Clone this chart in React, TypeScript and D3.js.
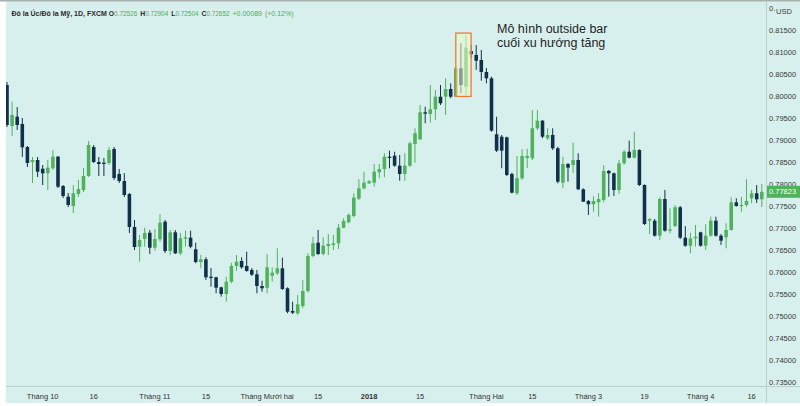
import React, { useRef, useEffect } from 'react';
import * as d3 from 'd3';

const W = 800;
const H = 406;

// OHLC, một nến mỗi ngày giao dịch (cuối 09/2017 -> 04/2018)
const opens = [
  0.80250, 0.79318, 0.79530, 0.79364, 0.78841, 0.78500, 0.78545, 0.78348, 0.78243, 0.78357,
  0.78621, 0.77955, 0.77712, 0.77500, 0.77773, 0.77864, 0.78182, 0.78841, 0.78500, 0.78484,
  0.78477, 0.78796, 0.78228, 0.78068, 0.77773, 0.77023, 0.76575, 0.76750, 0.76893, 0.76552,
  0.76743, 0.77143, 0.76477, 0.76902, 0.76425, 0.76757, 0.76780, 0.76516, 0.76227, 0.76289,
  0.75893, 0.75880, 0.75652, 0.75500, 0.75780, 0.76137, 0.76250, 0.76137, 0.76046, 0.75948,
  0.75682, 0.75643, 0.75916, 0.75971, 0.76084, 0.75630, 0.75114, 0.75062, 0.75227, 0.75568,
  0.76364, 0.76666, 0.76409, 0.76591, 0.76614, 0.76652, 0.77007, 0.77130, 0.77273, 0.77666,
  0.77902, 0.78016, 0.78030, 0.78266, 0.78341, 0.78621, 0.78643, 0.78416, 0.78228, 0.78416,
  0.78909, 0.79016, 0.79630, 0.79591, 0.79698, 0.79984, 0.79984, 0.80159, 0.79984, 0.80630,
  0.80212, 0.81023, 0.80932, 0.80818, 0.80546, 0.80402, 0.79130, 0.79075, 0.79061, 0.78228,
  0.77789, 0.78130, 0.78591, 0.78584, 0.79266, 0.79439, 0.79039, 0.79114, 0.78812, 0.78030,
  0.78455, 0.78432, 0.78545, 0.77880, 0.77614, 0.77539, 0.77584, 0.77637, 0.78296, 0.78243,
  0.77864, 0.78471, 0.78734, 0.78598, 0.78773, 0.77977, 0.77166, 0.77166, 0.76825, 0.77659,
  0.76939, 0.77046, 0.77471, 0.76780, 0.76598, 0.76766, 0.76902, 0.76598, 0.76825, 0.77166,
  0.76825, 0.76789, 0.76955, 0.77584, 0.77500, 0.77523, 0.77675, 0.77789, 0.77652,
];
const highs = [
  0.80318, 0.79871, 0.79750, 0.79500, 0.78864, 0.78614, 0.78614, 0.78432, 0.78545, 0.78773,
  0.78637, 0.77977, 0.77796, 0.77977, 0.78091, 0.78364, 0.78977, 0.78887, 0.78614, 0.78591,
  0.78841, 0.78841, 0.78341, 0.78250, 0.77796, 0.77182, 0.76841, 0.77007, 0.76955, 0.76977,
  0.77318, 0.77182, 0.76955, 0.76955, 0.76887, 0.76939, 0.76939, 0.76666, 0.76386, 0.76334,
  0.76091, 0.75893, 0.75666, 0.75893, 0.76212, 0.76386, 0.76334, 0.76462, 0.76091, 0.76046,
  0.75802, 0.76409, 0.76107, 0.76539, 0.76325, 0.75652, 0.75325, 0.75477, 0.75818, 0.76425,
  0.76802, 0.76955, 0.76789, 0.76864, 0.76841, 0.77091, 0.77221, 0.77334, 0.77789, 0.78107,
  0.78280, 0.78091, 0.78455, 0.78455, 0.78698, 0.78757, 0.78734, 0.78659, 0.78698, 0.78962,
  0.79266, 0.79796, 0.79757, 0.80250, 0.80137, 0.80250, 0.80402, 0.80289, 0.80682, 0.81198,
  0.81387, 0.81159, 0.81159, 0.81046, 0.80637, 0.80439, 0.79530, 0.79114, 0.79075, 0.78257,
  0.78637, 0.78789, 0.78796, 0.79682, 0.79682, 0.79455, 0.79266, 0.79266, 0.78848, 0.78621,
  0.78477, 0.78939, 0.78698, 0.77902, 0.77637, 0.77727, 0.77789, 0.78432, 0.78318, 0.78257,
  0.78545, 0.78773, 0.78984, 0.79189, 0.78789, 0.77993, 0.77221, 0.77205, 0.77698, 0.77864,
  0.77448, 0.77523, 0.77500, 0.77046, 0.76893, 0.77068, 0.76916, 0.77084, 0.77257, 0.77257,
  0.76864, 0.77107, 0.77698, 0.77675, 0.77712, 0.78107, 0.77864, 0.77977, 0.78000,
];
const lows = [
  0.79296, 0.79091, 0.79227, 0.78614, 0.78386, 0.78023, 0.78159, 0.77977, 0.77864, 0.78318,
  0.77909, 0.77682, 0.77477, 0.77341, 0.77705, 0.77818, 0.78159, 0.78477, 0.78182, 0.78182,
  0.78432, 0.78091, 0.78023, 0.77705, 0.76887, 0.76500, 0.76234, 0.76575, 0.76409, 0.76484,
  0.76689, 0.76432, 0.76386, 0.76409, 0.76386, 0.76575, 0.76539, 0.76198, 0.76084, 0.75818,
  0.75666, 0.75516, 0.75439, 0.75325, 0.75743, 0.76030, 0.76075, 0.76007, 0.75909, 0.75516,
  0.75552, 0.75516, 0.75780, 0.75932, 0.75591, 0.75062, 0.75046, 0.75023, 0.75175, 0.75530,
  0.76334, 0.76386, 0.76380, 0.76386, 0.76500, 0.76523, 0.76993, 0.77107, 0.77243, 0.77637,
  0.77880, 0.78000, 0.77939, 0.78130, 0.78152, 0.78357, 0.78393, 0.78075, 0.78075, 0.78393,
  0.78484, 0.79000, 0.79380, 0.79393, 0.79455, 0.79796, 0.79568, 0.79948, 0.79977, 0.80062,
  0.80023, 0.80864, 0.80591, 0.80348, 0.80289, 0.79189, 0.78727, 0.78357, 0.78182, 0.77789,
  0.77750, 0.78091, 0.78364, 0.78545, 0.79227, 0.79039, 0.79000, 0.78773, 0.78016, 0.77902,
  0.78053, 0.78257, 0.77864, 0.77591, 0.77296, 0.77371, 0.77257, 0.77584, 0.77712, 0.77727,
  0.77773, 0.78439, 0.78584, 0.78584, 0.77955, 0.77068, 0.76864, 0.76807, 0.76727, 0.76916,
  0.76880, 0.77016, 0.76750, 0.76575, 0.76425, 0.76575, 0.76575, 0.76500, 0.76802, 0.76802,
  0.76614, 0.76539, 0.76939, 0.77484, 0.77371, 0.77484, 0.77562, 0.77568, 0.77477,
];
const closes = [
  0.79341, 0.79568, 0.79341, 0.78834, 0.78477, 0.78545, 0.78280, 0.78243, 0.78371, 0.78621,
  0.77939, 0.77727, 0.77523, 0.77789, 0.77886, 0.78182, 0.78887, 0.78500, 0.78455, 0.78455,
  0.78773, 0.78137, 0.78068, 0.77750, 0.77023, 0.76568, 0.76727, 0.76887, 0.76552, 0.76750,
  0.77121, 0.76477, 0.76902, 0.76425, 0.76766, 0.76789, 0.76575, 0.76227, 0.76289, 0.75880,
  0.75864, 0.75643, 0.75500, 0.75780, 0.76137, 0.76234, 0.76107, 0.76023, 0.75939, 0.75682,
  0.75630, 0.76107, 0.75984, 0.76084, 0.75614, 0.75098, 0.75075, 0.75266, 0.75568, 0.76364,
  0.76652, 0.76409, 0.76598, 0.76636, 0.76652, 0.77007, 0.77159, 0.77296, 0.77689, 0.77902,
  0.78030, 0.78061, 0.78280, 0.78341, 0.78621, 0.78591, 0.78416, 0.78228, 0.78416, 0.78925,
  0.79152, 0.79630, 0.79598, 0.79698, 0.79984, 0.79834, 0.80159, 0.79984, 0.80630, 0.80250,
  0.81098, 0.80948, 0.80802, 0.80546, 0.80402, 0.79212, 0.78757, 0.78757, 0.78205, 0.77802,
  0.78130, 0.78637, 0.78637, 0.79266, 0.79439, 0.79075, 0.79114, 0.78812, 0.78053, 0.78455,
  0.78371, 0.78545, 0.77880, 0.77598, 0.77539, 0.77614, 0.77659, 0.78296, 0.78243, 0.77864,
  0.78471, 0.78734, 0.78598, 0.78773, 0.77977, 0.77091, 0.77205, 0.76825, 0.77659, 0.76939,
  0.76971, 0.77471, 0.76780, 0.76598, 0.76766, 0.76802, 0.76598, 0.76825, 0.77166, 0.76825,
  0.76712, 0.76955, 0.77584, 0.77500, 0.77523, 0.77614, 0.77789, 0.77652, 0.77823,
];

// nhãn trục thời gian (chỉ số nến)
const xTickIndex = [7, 17, 29, 39, 51, 61, 71, 81, 94, 103, 114, 125, 136, 146];
const xTickLabels = ['Tháng 10', '16', 'Tháng 11', '15', 'Tháng Mười hai', '15', '2018', '15', 'Tháng Hai', '15', 'Tháng 3', '19', 'Tháng 4', '16'];

const yTickValues = [0.735, 0.74, 0.745, 0.75, 0.755, 0.76, 0.765, 0.77, 0.775, 0.78, 0.785, 0.79, 0.795, 0.8, 0.805, 0.81, 0.815];

const lastPrice = 0.77823;

// nến của mô hình outside bar (chỉ số đầu/cuối, vùng giá)
const boxIndex = [88, 91];
const boxPrice = [0.7999, 0.8143];

const annotationLines = ['Mô hình outside bar', 'cuối xu hướng tăng'];

// tiêu đề: chữ, màu, đậm, cỡ, khoảng cách trước
const headerParts = [
  { t: 'Đô la Úc/Đô la Mỹ, 1D, FXCM', c: '#2b2b2b', w: 'bold', s: 7, dx: 0 },
  { t: 'O', c: '#2b2b2b', w: 'bold', s: 6.8, dx: 2 },
  { t: '0.72526', c: '#4caf50', w: 'normal', s: 6.4, dx: 0 },
  { t: 'H', c: '#2b2b2b', w: 'bold', s: 6.8, dx: 3 },
  { t: '0.72904', c: '#4caf50', w: 'normal', s: 6.4, dx: 0 },
  { t: 'L', c: '#2b2b2b', w: 'bold', s: 6.8, dx: 3 },
  { t: '0.72504', c: '#4caf50', w: 'normal', s: 6.4, dx: 0 },
  { t: 'C', c: '#2b2b2b', w: 'bold', s: 6.8, dx: 3 },
  { t: '0.72652', c: '#4caf50', w: 'normal', s: 6.4, dx: 0 },
  { t: '+0.00089', c: '#4caf50', w: 'normal', s: 7, dx: 3 },
  { t: '(+0.12%)', c: '#4caf50', w: 'normal', s: 7, dx: 3 },
];

const UP = '#4fb25c';
const DOWN = '#11304a';
const BG = '#d8f0ed';
const LINE = '#b9d1ce';
const FONT = "'Liberation Sans', Arial, sans-serif";

const PANEL_LEFT = 6;
const PLOT_RIGHT = 766;
const AXIS_Y = 386;
const BOTTOM = 403;

const App: React.FC = () => {
  const svgRef = useRef<SVGSVGElement>(null);

  useEffect(() => {
    if (!svgRef.current) return;
    const svg = d3.select(svgRef.current);
    svg.selectAll('*').remove();

    const n = opens.length;
    const x = d3.scaleBand<number>()
      .domain(d3.range(n))
      .range([4.45, 4.45 + 5.1 * n])
      .padding(0);
    const cx = (i: number) => (x(i) as number) + x.bandwidth() / 2;
    const bodyW = x.bandwidth() * 0.7;

    const y = d3.scaleLinear().domain([0.735, 0.815]).range([382, 30]);

    // nền
    svg.append('rect').attr('width', W).attr('height', H).attr('fill', '#ffffff');
    svg.append('rect')
      .attr('x', PANEL_LEFT).attr('y', 0)
      .attr('width', W - PANEL_LEFT).attr('height', BOTTOM)
      .attr('fill', BG);
    svg.append('rect').attr('x', 0).attr('y', 0).attr('width', W).attr('height', 1.5).attr('fill', '#a9b0b0');

    const defs = svg.append('defs');
    defs.append('clipPath').attr('id', 'plotClip')
      .append('rect')
      .attr('x', PANEL_LEFT).attr('y', 1.5)
      .attr('width', PLOT_RIGHT - PANEL_LEFT).attr('height', AXIS_Y - 1.5);
    defs.append('clipPath').attr('id', 'topLabelClip')
      .append('rect')
      .attr('x', PLOT_RIGHT).attr('y', 0)
      .attr('width', 9).attr('height', 14);

    const idx = d3.range(n);
    const plot = svg.append('g').attr('clip-path', 'url(#plotClip)');

    // râu nến
    plot.append('g').selectAll('line')
      .data(idx)
      .join('line')
      .attr('x1', d => cx(d)).attr('x2', d => cx(d))
      .attr('y1', d => y(highs[d])).attr('y2', d => y(lows[d]))
      .attr('stroke', d => (closes[d] >= opens[d] ? UP : DOWN))
      .attr('stroke-width', 1);

    // thân nến
    plot.append('g').selectAll('rect')
      .data(idx)
      .join('rect')
      .attr('x', d => cx(d) - bodyW / 2)
      .attr('width', bodyW)
      .attr('y', d => y(Math.max(opens[d], closes[d])))
      .attr('height', d => Math.max(1.2, Math.abs(y(opens[d]) - y(closes[d]))))
      .attr('fill', d => (closes[d] >= opens[d] ? UP : DOWN));

    // khung outside bar
    const bx0 = cx(boxIndex[0]);
    const bx1 = cx(boxIndex[1]);
    svg.append('rect')
      .attr('x', bx0).attr('y', y(boxPrice[1]))
      .attr('width', bx1 - bx0).attr('height', y(boxPrice[0]) - y(boxPrice[1]))
      .attr('fill', 'rgba(238,248,205,0.55)')
      .attr('stroke', '#ee7b35')
      .attr('stroke-width', 1.3);

    // chú thích
    const ann = svg.append('text')
      .attr('x', 497).attr('y', 33)
      .attr('font-family', FONT).attr('font-size', 12.5)
      .attr('fill', '#1e1e1e');
    annotationLines.forEach((l, i) => {
      ann.append('tspan').attr('x', 497).attr('dy', i === 0 ? 0 : 13.5).text(l);
    });

    // đường phân cách trục
    svg.append('line')
      .attr('x1', PLOT_RIGHT + 0.5).attr('x2', PLOT_RIGHT + 0.5)
      .attr('y1', 1.5).attr('y2', BOTTOM)
      .attr('stroke', LINE).attr('stroke-width', 1);
    svg.append('line')
      .attr('x1', PANEL_LEFT).attr('x2', W)
      .attr('y1', AXIS_Y + 0.5).attr('y2', AXIS_Y + 0.5)
      .attr('stroke', LINE).attr('stroke-width', 1);

    // trục giá
    svg.append('g').selectAll('text')
      .data(yTickValues)
      .join('text')
      .attr('x', PLOT_RIGHT + 3)
      .attr('y', d => y(d))
      .attr('dy', '0.35em')
      .attr('font-family', FONT).attr('font-size', 7.5)
      .attr('fill', '#3a3a3a')
      .text(d => d.toFixed(5));

    // nhãn trên cùng bị "USD" che một phần
    svg.append('text')
      .attr('clip-path', 'url(#topLabelClip)')
      .attr('x', PLOT_RIGHT + 3)
      .attr('y', y(0.82))
      .attr('dy', '0.35em')
      .attr('font-family', FONT).attr('font-size', 7.5)
      .attr('fill', '#3a3a3a')
      .text('0.');
    svg.append('text')
      .attr('x', PLOT_RIGHT + 10).attr('y', 13.5)
      .attr('font-family', FONT).attr('font-size', 7.5)
      .attr('fill', '#3a3a3a')
      .text('USD');

    // nhãn giá cuối
    svg.append('rect')
      .attr('x', PLOT_RIGHT + 1).attr('y', y(lastPrice) - 6)
      .attr('width', W - PLOT_RIGHT - 1).attr('height', 12)
      .attr('fill', UP);
    svg.append('text')
      .attr('x', PLOT_RIGHT + 3).attr('y', y(lastPrice))
      .attr('dy', '0.35em')
      .attr('font-family', FONT).attr('font-size', 7.5)
      .attr('fill', '#ffffff')
      .text(lastPrice.toFixed(5));

    // trục thời gian
    svg.append('g').selectAll('text')
      .data(xTickIndex)
      .join('text')
      .attr('x', d => cx(d))
      .attr('y', 396)
      .attr('dy', '0.35em')
      .attr('text-anchor', 'middle')
      .attr('font-family', FONT).attr('font-size', 7.5)
      .attr('font-weight', (d, i) => (xTickLabels[i] === '2018' ? 'bold' : 'normal'))
      .attr('fill', '#333333')
      .text((d, i) => xTickLabels[i]);

    // tiêu đề (một khối chữ, nhiều tspan)
    const head = svg.append('text')
      .attr('x', 11.5).attr('y', 15.5)
      .attr('font-family', FONT);
    headerParts.forEach(p => {
      head.append('tspan')
        .attr('dx', p.dx)
        .attr('font-size', p.s)
        .attr('font-weight', p.w)
        .attr('fill', p.c)
        .text(p.t);
    });
  }, []);

  return (
    <svg
      ref={svgRef}
      width={W}
      height={H}
      style={{ position: 'absolute', left: 0, top: 0, display: 'block' }}
    />
  );
};

export default App;
